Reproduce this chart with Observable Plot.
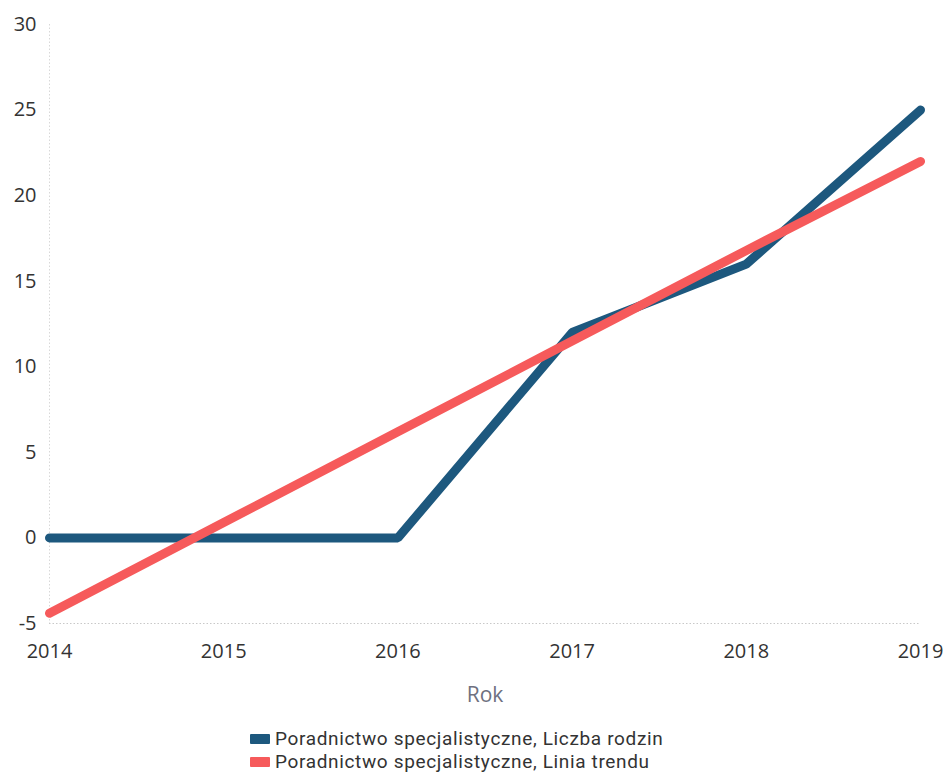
<!DOCTYPE html>
<html>
<head>
<meta charset="utf-8">
<script src="https://cdn.jsdelivr.net/npm/d3@7"></script>
<script src="https://cdn.jsdelivr.net/npm/@observablehq/plot@0.6"></script>
<style>
  body { margin: 0; background: #fff; font-family: "Open Sans", sans-serif; }
  #wrap { position: relative; width: 945px; height: 773px; }
  #legend { position: absolute; left: 250px; top: 728px; font-family: Roboto, sans-serif; font-size: 19px; letter-spacing: 0.65px; color: #333; line-height: 22.5px; }
  #legend .item { display: flex; align-items: center; white-space: nowrap; height: 22.5px; }
  #legend .sw { width: 20px; height: 10px; margin-right: 5px; border-radius: 1px; }
</style>
</head>
<body>
<div id="wrap">
  <div id="chart"></div>
  <div id="legend"></div>
</div>
<script>
const years = [2014, 2015, 2016, 2017, 2018, 2019];
const families = [0, 0, 0, 12, 16, 25];
const trend = [-4.4, 0.9, 6.2, 11.5, 16.8, 22.0];
const yTicks = [-5, 0, 5, 10, 15, 20, 25, 30];
const seriesNames = ["Poradnictwo specjalistyczne, Liczba rodzin", "Poradnictwo specjalistyczne, Linia trendu"];
const seriesColors = ["#1d587e", "#f65a5b"];

const famData = years.map((y, i) => ({year: y, value: families[i]}));
const trendData = years.map((y, i) => ({year: y, value: trend[i]}));

const chart = Plot.plot({
  width: 945,
  height: 715,
  marginTop: 24,
  marginBottom: 92,
  marginLeft: 49,
  marginRight: 25,
  style: {fontFamily: "'Open Sans', sans-serif", fontSize: "20px", color: "#333", background: "#fff"},
  x: {domain: [2014, 2019], ticks: years, tickFormat: d => String(d), tickSize: 0, tickPadding: 20, label: "Rok", labelAnchor: "center", labelArrow: "none", labelOffset: 78},
  y: {domain: [-5, 30], ticks: yTicks, tickFormat: d => String(d), tickSize: 0, tickPadding: 13, label: null},
  marks: [
    Plot.ruleY([-5], {stroke: "#c8c8c8", strokeDasharray: "1.5,2", strokeWidth: 1}),
    Plot.ruleX([2014], {stroke: "#d8d8d8", strokeDasharray: "1.5,2", strokeWidth: 1}),
    Plot.line(famData, {x: "year", y: "value", stroke: seriesColors[0], strokeWidth: 9, strokeLinejoin: "miter", strokeLinecap: "round"}),
    Plot.line(trendData, {x: "year", y: "value", stroke: seriesColors[1], strokeWidth: 9, strokeLinecap: "round"})
  ]
});
d3.select(chart).selectAll("g[aria-label='x-axis label'] text, g[aria-label='x-axis label']").attr("fill", "#6e7080").style("font-size", "21px");
document.getElementById("chart").appendChild(chart);

const legend = document.getElementById("legend");
seriesNames.forEach((n, i) => {
  const d = document.createElement("div");
  d.className = "item";
  d.innerHTML = `<span class="sw" style="background:${seriesColors[i]}"></span><span>${n}</span>`;
  legend.appendChild(d);
});
</script>
</body>
</html>
